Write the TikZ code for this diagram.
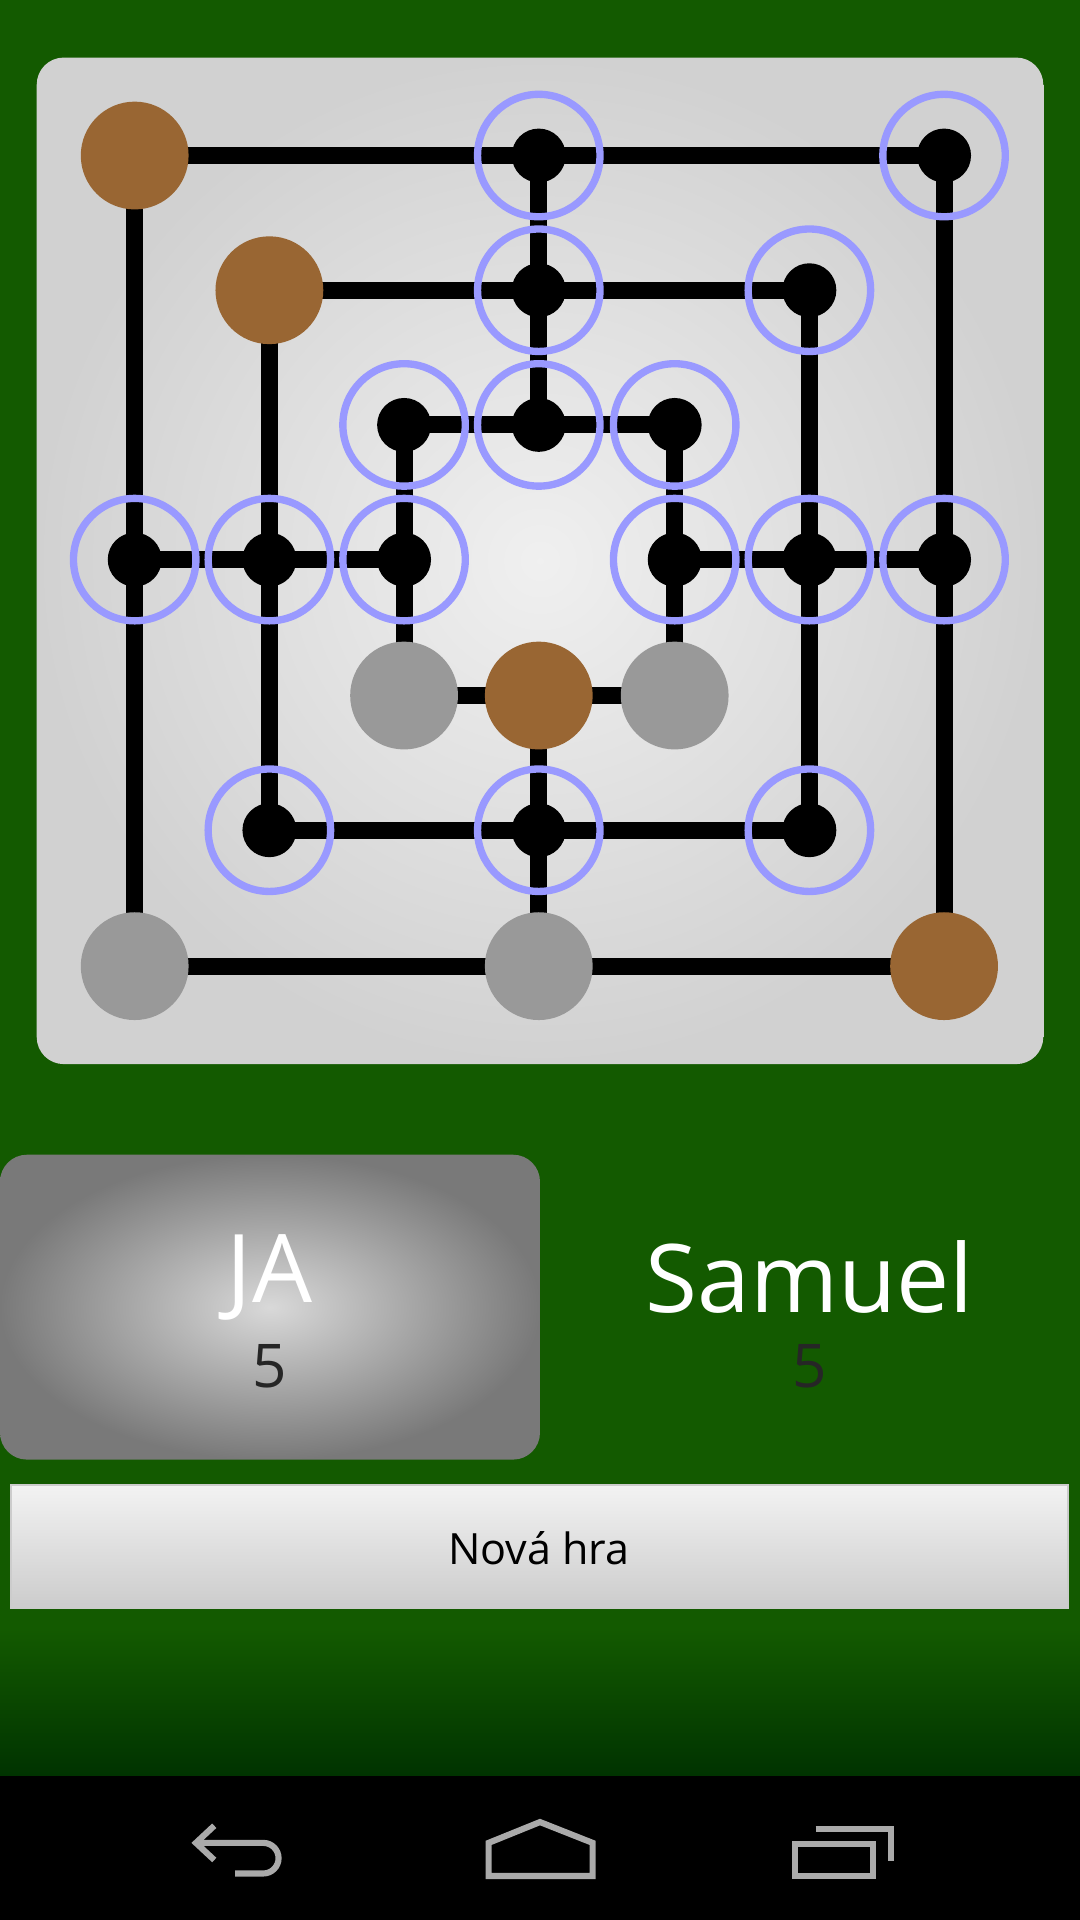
\documentclass[tikz,border=0pt]{standalone}
\usepackage{fontspec}
\setmainfont{Open Sans}
\usetikzlibrary{positioning}
\definecolor{appgreen}{HTML}{135A00}
\definecolor{darkgreen}{HTML}{003300}
\definecolor{ring}{HTML}{9999FF}
\definecolor{brownpiece}{HTML}{996633}
\definecolor{graypiece}{HTML}{999999}
\definecolor{navgray}{HTML}{AAAAAA}
\tikzset{
  boardline/.style={line width=14*0.2845pt, black},
  freespot/.style={circle, fill=black, minimum size=44*0.2845pt, inner sep=0pt},
  spotring/.style={draw=ring, line width=6*0.2845pt},
  piece/.style={circle, minimum size=88*0.2845pt, inner sep=0pt},
  navicon/.style={draw=navgray, line width=5*0.2845pt}
}
\begin{document}
\begin{tikzpicture}[x=0.01cm,y=-0.01cm]
% Background
\useasboundingbox (0,0) rectangle (882,1568);
\fill[appgreen] (0,0) rectangle (882,1330);
\shade[top color=appgreen, bottom color=darkgreen] (0,1330) rectangle (882,1450);
\fill[black] (0,1450) rectangle (882,1568);

% Board
\shade[rounded corners=22*0.2845pt, inner color=white!88!gray, outer color=white!64!gray]
  (30,47) rectangle (852,869);

% Grid coordinates
\foreach \c/\x in {a/110,b/220,c/330,d/440,e/551,f/661,g/771}
  \foreach \r/\y in {1/127,2/237,3/347,4/457,5/568,6/678,7/789}
    \coordinate (\c\r) at (\x,\y);

% Lines
\draw[boardline] (a1) rectangle (g7);
\draw[boardline] (b2) rectangle (f6);
\draw[boardline] (c3) rectangle (e5);
\draw[boardline] (d1) -- (d3);
\draw[boardline] (d5) -- (d7);
\draw[boardline] (a4) -- (c4);
\draw[boardline] (e4) -- (g4);

% Free spots
\foreach \p in {d1,g1,d2,f2,c3,d3,e3,a4,b4,c4,e4,f4,g4,b6,d6,f6} {
  \node[freespot] (s\p) at (\p) {};
  \draw[spotring] (\p) circle (50);
}

% Pieces
\foreach \p in {a1,b2,d5,g7}
  \node[piece, fill=brownpiece] (m\p) at (\p) {};
\foreach \p in {c5,e5,a7,d7}
  \node[piece, fill=graypiece] (m\p) at (\p) {};

% Players
\shade[rounded corners=22*0.2845pt, inner color=white!70!gray, outer color=gray!95!black]
  (0,943) rectangle (441,1192);
\node[white, font=\fontsize{22}{26}\selectfont] (me) at (220,1043) {JA};
\node[black!85, font=\fontsize{14}{17}\selectfont] (mescore) at (220,1116) {5};
\node[white, font=\fontsize{22}{26}\selectfont] (opp) at (661,1043) {Samuel};
\node[black!85, font=\fontsize{14}{17}\selectfont] (oppscore) at (661,1116) {5};

% Button
\shade[top color=white!90!gray, bottom color=white!60!gray, draw=white!60!gray]
  (9,1213) rectangle (872,1313);
\node[black, font=\fontsize{10}{12}\selectfont] (newgame) at (440,1264) {Nová hra};

% Navigation bar
\draw[navicon] (160,1505) -- (215,1505) arc (-90:90:12.5) -- (192,1530);
\draw[navicon] (175,1491) -- (160,1505) -- (175,1519);
\draw[navicon] (399,1532) -- (399,1505) -- (441,1488) -- (484,1505) -- (484,1532) -- cycle;
\draw[navicon] (666,1494) -- (728,1494) -- (728,1520);
\draw[navicon] (649,1506) rectangle (713,1532);
\end{tikzpicture}
\end{document}
